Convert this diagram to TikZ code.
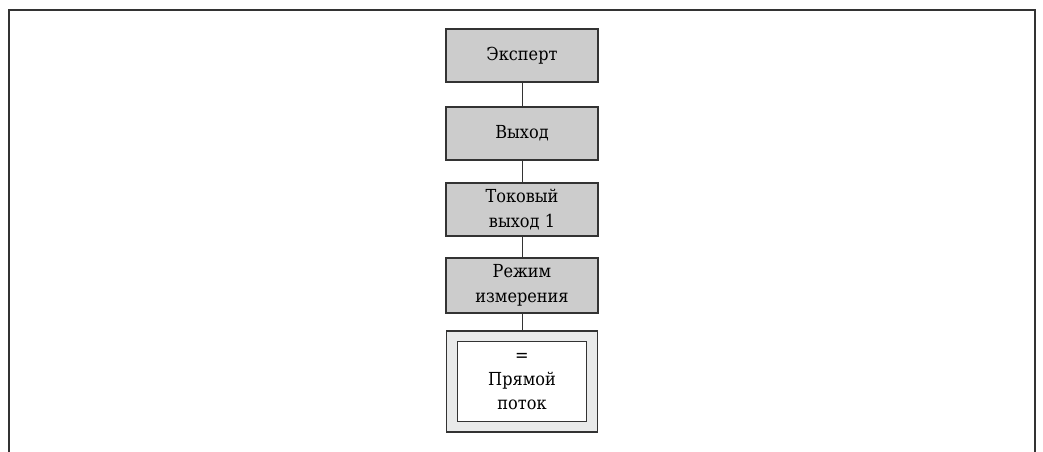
\documentclass[tikz,border=0pt]{standalone}
\usepackage{fontspec}
\setmainfont{DejaVu Serif Condensed}
\usepackage{tikz}
\usetikzlibrary{positioning}
\definecolor{menugray}{HTML}{CCCCCC}
\definecolor{valuegray}{HTML}{E9EAEA}
\definecolor{edgegray}{HTML}{333333}

\begin{document}
\begin{tikzpicture}[x=1bp,y=1bp,
    menubox/.style={draw=edgegray,line width=1.2bp,fill=menugray,minimum width=152bp,minimum height=53bp,
      inner sep=0pt,align=center,font=\fontsize{18}{25}\selectfont},
    valuebox/.style={draw=edgegray,line width=1.2bp,fill=valuegray,minimum width=151bp,minimum height=101bp,inner sep=0pt},
    link/.style={draw=edgegray,line width=1bp}]
        \useasboundingbox (0,0) rectangle (1043,-452);
        % frame, open at the bottom
        \draw[edgegray,line width=2bp] (9,-452) -- (9,-10) -- (1035,-10) -- (1035,-452);
        \node[menubox] (expert) at (522,-55.5) {Эксперт};
        \node[menubox] (output) at (522,-133.5) {Выход};
        \node[menubox] (current) at (522,-209.5) {Токовый\\выход 1};
        \node[menubox,minimum height=55bp] (mode) at (522,-285.5) {Режим\\измерения};
        \node[valuebox] (value) at (522,-381.5) {};
        \node[draw=edgegray,line width=1.2bp,fill=white,minimum width=129bp,minimum height=80bp,inner sep=0pt,
          align=center,font=\fontsize{18}{24}\selectfont] (flow) at (value) {=\\Прямой\\поток};
        \foreach \a/\b in {expert/output,output/current,current/mode,mode/value}
          {\path[link] (\a) -- (\b);}
      \end{tikzpicture}
\end{document}
